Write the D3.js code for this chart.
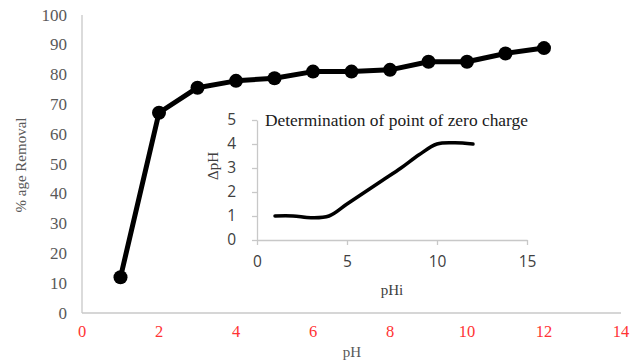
<!DOCTYPE html>
<meta charset="utf-8">
<html>
<head>
<style>
    body { margin: 0; background: #fff; }
    svg { display: block; }
</style>
</head>
<body>
<svg width="641" height="363"></svg>
<script src="https://d3js.org/d3.v7.min.js"></script>
<script>
// main chart: % removal vs pH
var phValues = [1, 2, 3, 4, 5, 6, 7, 8, 9, 10, 11, 12];
var removal = [12, 67.2, 75.6, 77.9, 78.8, 81, 81, 81.6, 84.3, 84.3, 87.1, 88.9];
var mainXTicks = [0, 2, 4, 6, 8, 10, 12, 14];
var mainYTicks = [0, 10, 20, 30, 40, 50, 60, 70, 80, 90, 100];

// inset: point of zero charge
var phi = [1, 2, 3, 4, 5, 6, 7, 8, 9, 10, 11, 12];
var deltaPh = [1, 1, 0.93, 1.0, 1.5, 2.0, 2.5, 3.0, 3.55, 4.0, 4.05, 4.0];
var insetXTicks = [0, 5, 10, 15];
var insetYTicks = [0, 1, 2, 3, 4, 5];

var svg = d3.select("svg");
svg.append("rect").attr("width", 641).attr("height", 363).attr("fill", "#fff");

var x = d3.scaleLinear().domain([0, 14]).range([82, 621]);
var y = d3.scaleLinear().domain([0, 100]).range([313, 15]);

// axes lines
svg.append("line").attr("x1", x(0)).attr("x2", x(14)).attr("y1", y(0)).attr("y2", y(0))
    .attr("stroke", "#c8c8c8").attr("stroke-width", 1.3);
svg.append("line").attr("x1", x(0)).attr("x2", x(0)).attr("y1", y(0)).attr("y2", y(100))
    .attr("stroke", "#c8c8c8").attr("stroke-width", 1.3);

svg.selectAll(".ylab").data(mainYTicks).enter().append("text")
    .attr("x", 67).attr("y", function(d) { return y(d) + 5.5; })
    .attr("text-anchor", "end")
    .attr("font-family", "Liberation Serif, serif").attr("font-size", 17)
    .attr("fill", "#595959")
    .text(function(d) { return d; });

svg.selectAll(".xlab").data(mainXTicks).enter().append("text")
    .attr("x", function(d) { return x(d); }).attr("y", 337)
    .attr("text-anchor", "middle")
    .attr("font-family", "Liberation Serif, serif").attr("font-size", 16.5)
    .attr("fill", "#ff3333")
    .text(function(d) { return d; });

svg.append("text").attr("x", 352).attr("y", 357).attr("text-anchor", "middle")
    .attr("font-family", "Liberation Serif, serif").attr("font-size", 15)
    .attr("fill", "#595959").text("pH");

svg.append("text").attr("transform", "translate(26,165) rotate(-90)")
    .attr("text-anchor", "middle")
    .attr("font-family", "Liberation Serif, serif").attr("font-size", 15)
    .attr("fill", "#595959").text("% age Removal");

var mainLine = d3.line()
    .x(function(d, i) { return x(phValues[i]); })
    .y(function(d) { return y(d); });

svg.append("path").datum(removal)
    .attr("d", mainLine).attr("fill", "none")
    .attr("stroke", "#000").attr("stroke-width", 5).attr("stroke-linejoin", "round");

svg.selectAll(".dot").data(removal).enter().append("circle")
    .attr("cx", function(d, i) { return x(phValues[i]); })
    .attr("cy", function(d) { return y(d); })
    .attr("r", 7).attr("fill", "#000");

// inset chart
var ix = d3.scaleLinear().domain([0, 15]).range([257, 527]);
var iy = d3.scaleLinear().domain([0, 5]).range([240, 120]);

var inset = svg.append("g");

inset.append("g").attr("transform", "translate(0," + iy(0) + ")")
    .call(d3.axisBottom(ix).tickValues(insetXTicks).tickFormat(d3.format("d"))
        .tickSize(5).tickSizeOuter(0).tickPadding(11))
    .call(function(g) {
        g.select(".domain").attr("stroke", "#c8c8c8").attr("stroke-width", 1.3);
        g.selectAll(".tick line").attr("stroke", "#c8c8c8").attr("stroke-width", 1.3);
        g.selectAll("text").attr("font-family", "Open Sans, sans-serif").attr("font-size", 15.5).attr("fill", "#404040");
    });

inset.append("g").attr("transform", "translate(" + ix(0) + ",0)")
    .call(d3.axisLeft(iy).tickValues(insetYTicks).tickFormat(d3.format("d"))
        .tickSize(5).tickSizeOuter(0).tickPadding(16))
    .call(function(g) {
        g.select(".domain").attr("stroke", "#c8c8c8").attr("stroke-width", 1.3);
        g.selectAll(".tick line").attr("stroke", "#c8c8c8").attr("stroke-width", 1.3);
        g.selectAll("text").attr("font-family", "Open Sans, sans-serif").attr("font-size", 15.5).attr("fill", "#404040");
    });

var insetLine = d3.line()
    .curve(d3.curveCatmullRom)
    .x(function(d, i) { return ix(phi[i]); })
    .y(function(d) { return iy(d); });

inset.append("path").datum(deltaPh)
    .attr("d", insetLine).attr("fill", "none")
    .attr("stroke", "#000").attr("stroke-width", 3.5).attr("stroke-linecap", "round");

inset.append("text").attr("x", 265).attr("y", 126)
    .attr("font-family", "Liberation Serif, serif").attr("font-size", 16.5)
    .attr("textLength", 263).attr("lengthAdjust", "spacingAndGlyphs")
    .attr("fill", "#1a1a1a").text("Determination of point of zero charge");

inset.append("text").attr("transform", "translate(218,166) rotate(-90)")
    .attr("text-anchor", "middle")
    .attr("font-family", "Liberation Serif, serif").attr("font-size", 15)
    .attr("fill", "#404040").text("ΔpH");

inset.append("text").attr("x", 392).attr("y", 295).attr("text-anchor", "middle")
    .attr("font-family", "Liberation Serif, serif").attr("font-size", 15)
    .attr("fill", "#404040").text("pHi");
</script>
</body>
</html>
